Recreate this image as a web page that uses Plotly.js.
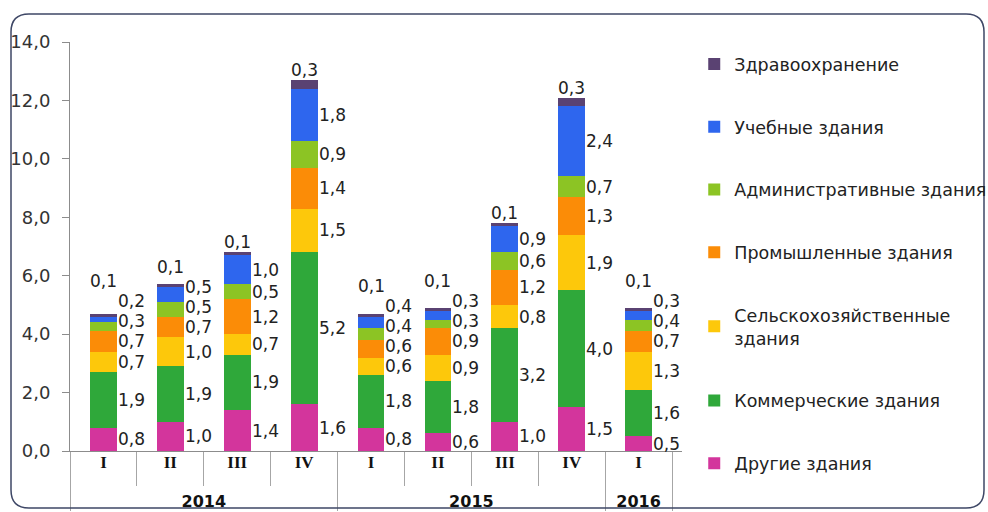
<!DOCTYPE html>
<html>
<head>
<meta charset="utf-8">
<script src="https://cdn.plot.ly/plotly-3.0.1.min.js"></script>
<style>
  html, body { margin: 0; padding: 0; background: #ffffff; }
  #chart { width: 988px; height: 512px; }
</style>
</head>
<body>
<div id="chart"></div>
<script>
// ---- data ----
const years    = ['2014', '2014', '2014', '2014', '2015', '2015', '2015', '2015', '2016'];
const quarters = ['I', 'II', 'III', 'IV', 'I', 'II', 'III', 'IV', 'I'];

const seriesNames = [
  'Другие здания',
  'Коммерческие здания',
  'Сельскохозяйственные<br>здания',
  'Промышленные здания',
  'Административные здания',
  'Учебные здания',
  'Здравоохранение'
];
const other      = [0.8, 1.0, 1.4, 1.6, 0.8, 0.6, 1.0, 1.5, 0.5];
const commercial = [1.9, 1.9, 1.9, 5.2, 1.8, 1.8, 3.2, 4.0, 1.6];
const agri       = [0.7, 1.0, 0.7, 1.5, 0.6, 0.9, 0.8, 1.9, 1.3];
const industrial = [0.7, 0.7, 1.2, 1.4, 0.6, 0.9, 1.2, 1.3, 0.7];
const admin      = [0.3, 0.5, 0.5, 0.9, 0.4, 0.3, 0.6, 0.7, 0.4];
const education  = [0.2, 0.5, 1.0, 1.8, 0.4, 0.3, 0.9, 2.4, 0.3];
const health     = [0.1, 0.1, 0.1, 0.3, 0.1, 0.1, 0.1, 0.3, 0.1];

const yTickVals = [0, 2, 4, 6, 8, 10, 12, 14];

// ---- styles ----
const colors = ['#d3359c', '#2fa83a', '#fdc80b', '#fb8c07', '#8cc424', '#2e66ee', '#5a4272'];
const seriesValues = [other, commercial, agri, industrial, admin, education, health];

const W = 988, H = 512;
const M = { l: 70, r: 306, t: 42, b: 61, autoexpand: false };
const plotW = W - M.l - M.r, plotH = H - M.t - M.b;
const yMax = 14;
const pxPerUnit = plotH / yMax;
const FONT = 'DejaVu Sans, Verdana, sans-serif';
const fmt = v => v.toFixed(1).replace('.', ',');

const xQuarterLabels = quarters.map(q => '<span style="font-family:Liberation Serif;font-size:17px">' + q + '</span>');
const xYearLabels = years.map(y => '<br><span style="font-size:16px">' + y + '</span>');

const traces = seriesNames.map((name, k) => ({
  type: 'bar',
  name: name,
  x: [xYearLabels, xQuarterLabels],
  y: seriesValues[k],
  marker: { color: colors[k], line: { width: 0 } },
  legendgroup: 'g' + k,
  legendrank: 10 * (seriesValues.length - k),
  hoverinfo: 'skip'
}));

// ---- data labels (to the right of each segment, top series above the bar) ----
const annotations = [];
const minGap = 20;
for (let i = 0; i < quarters.length; i++) {
  let base = 0, prev = -Infinity;
  for (let k = 0; k < seriesValues.length; k++) {
    const v = seriesValues[k][i];
    const isTop = (k === seriesValues.length - 1);
    let pos;
    if (!isTop) {
      pos = (base + v / 2) * pxPerUnit;
    } else {
      pos = (base + v) * pxPerUnit + 10;
    }
    pos = Math.max(pos, prev + minGap);
    prev = pos;
    annotations.push({
      x: isTop ? i : i + 0.2,
      y: pos / pxPerUnit,
      xref: 'x', yref: 'y',
      text: fmt(v),
      showarrow: false,
      xanchor: isTop ? 'center' : 'left',
      yanchor: 'middle',
      xshift: isTop ? 0 : -1,
      font: { family: FONT, size: 17, color: '#222222' }
    });
    base += v;
  }
}

// ---- rounded frame ----
const px2x = p => (p - M.l) / plotW;
const py2y = p => (H - M.b - p) / plotH;
const fx0 = 11, fx1 = 984, fy0 = 14, fy1 = 508, rad = 18;
const framePath =
  'M' + px2x(fx0 + rad) + ',' + py2y(fy0) +
  ' L' + px2x(fx1 - rad) + ',' + py2y(fy0) +
  ' Q' + px2x(fx1) + ',' + py2y(fy0) + ' ' + px2x(fx1) + ',' + py2y(fy0 + rad) +
  ' L' + px2x(fx1) + ',' + py2y(fy1 - rad) +
  ' Q' + px2x(fx1) + ',' + py2y(fy1) + ' ' + px2x(fx1 - rad) + ',' + py2y(fy1) +
  ' L' + px2x(fx0 + rad) + ',' + py2y(fy1) +
  ' Q' + px2x(fx0) + ',' + py2y(fy1) + ' ' + px2x(fx0) + ',' + py2y(fy1 - rad) +
  ' L' + px2x(fx0) + ',' + py2y(fy0 + rad) +
  ' Q' + px2x(fx0) + ',' + py2y(fy0) + ' ' + px2x(fx0 + rad) + ',' + py2y(fy0) + ' Z';

const layout = {
  width: W, height: H,
  margin: M,
  paper_bgcolor: '#ffffff',
  plot_bgcolor: '#ffffff',
  barmode: 'stack',
  bargap: 0.6,
  separators: ', ',
  font: { family: FONT, size: 16, color: '#222222' },
  xaxis: {
    type: 'multicategory',
    automargin: false,
    showline: true, linecolor: '#8c8c8c', linewidth: 1,
    ticks: 'outside', tickson: 'boundaries', ticklen: 34, tickcolor: '#a6a6a6',
    showdividers: true, dividercolor: '#a6a6a6', dividerwidth: 1,
    tickfont: { family: FONT, size: 13.5, color: '#111111', weight: 'bold' },
    showgrid: false, zeroline: false, fixedrange: true
  },
  yaxis: {
    automargin: false,
    range: [0, yMax],
    tickvals: yTickVals,
    tickformat: '.1f',
    showline: true, linecolor: '#8c8c8c', linewidth: 1,
    ticks: 'outside', ticklen: 7, tickcolor: '#8c8c8c',
    ticklabelstandoff: 8,
    tickfont: { family: FONT, size: 18, color: '#333333' },
    showgrid: false, zeroline: false, fixedrange: true
  },
  legend: {
    x: 1.02, y: 0.99, xanchor: 'left', yanchor: 'top',
    traceorder: 'grouped',
    tracegroupgap: 37,
    maxheight: 470,
    font: { family: FONT, size: 17.5, color: '#222222' },
    bgcolor: 'rgba(0,0,0,0)'
  },
  annotations: annotations,
  shapes: [{
    type: 'path', xref: 'paper', yref: 'paper',
    path: framePath,
    line: { color: '#3e4766', width: 1.5 },
    fillcolor: 'rgba(0,0,0,0)'
  }],
  showlegend: true
};

Plotly.newPlot('chart', traces, layout, { staticPlot: true, displayModeBar: false });
</script>
</body>
</html>
